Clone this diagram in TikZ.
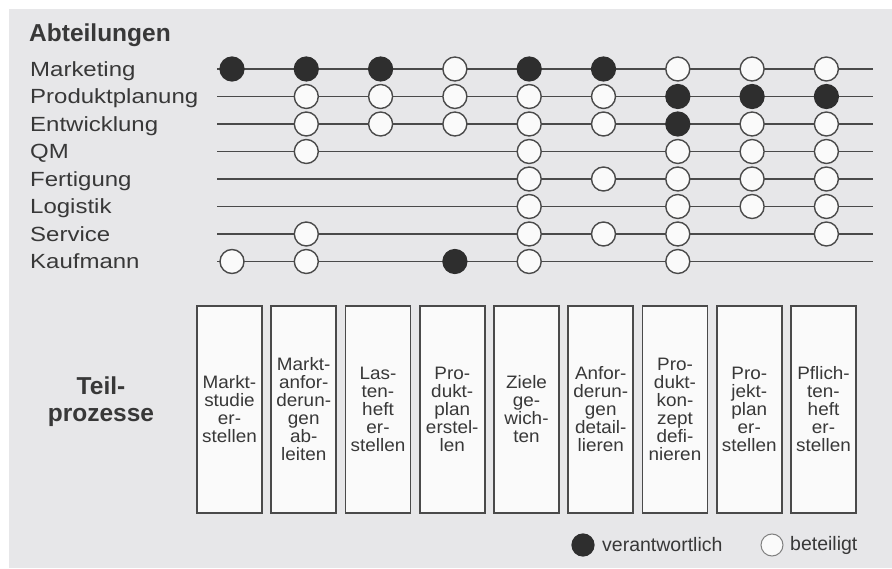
\documentclass[tikz,border=0pt]{standalone}
\usepackage{fontspec}
\setmainfont{Liberation Sans}
\newfontfamily\widesans{Liberation Sans}[FakeStretch=1.17]
\newfontfamily\boxsans{Liberation Sans}[FakeStretch=1.05]
\pgfdeclarelayer{background}
\pgfsetlayers{background,main}
\definecolor{paper}{HTML}{E7E7E9}
\definecolor{ink}{HTML}{383838}
\definecolor{wire}{HTML}{4A4A4A}
\definecolor{dot}{HTML}{2E2E2E}
\definecolor{boxfill}{HTML}{FAFAFA}
\begin{document}
\begin{tikzpicture}[x=1pt,y=-1pt,
  dept/.style={anchor=base west, inner sep=0pt, text=ink,
    font=\widesans\fontsize{20.5}{25}\selectfont},
  heading/.style={inner sep=0pt, text=ink,
    font=\fontsize{24.5}{27}\selectfont\bfseries},
  wireline/.style={draw=wire, line width=1.6pt},
  resp/.style={circle, fill=dot, draw=dot, line width=1.2pt,
    minimum size=24pt, inner sep=0pt},
  part/.style={circle, fill=boxfill, draw=wire, line width=1.4pt,
    minimum size=24pt, inner sep=0pt},
  stepbox/.style={draw=wire, fill=boxfill, line width=1.6pt,
    minimum width=65pt, minimum height=207pt, inner sep=0pt,
    align=center, text=ink, font=\boxsans\fontsize{18}{18}\selectfont},
  legendtext/.style={anchor=west, inner sep=0pt, text=ink,
    font=\fontsize{19.5}{22}\selectfont}]

% page and grey sheet
\useasboundingbox (0,0) rectangle (892,569);
\fill[white] (0,0) rectangle (892,569);
\fill[paper] (9,9) rectangle (892,568);

% headings
\node[heading, anchor=base west] (hdept) at (29,42) {Abteilungen};
\node[heading, align=center] (hproc) at (101,402) {Teil-\\prozesse};

% departments with their horizontal lines
\foreach \r/\name in {1/Marketing,2/Produktplanung,3/Entwicklung,4/QM,
                      5/Fertigung,6/Logistik,7/Service,8/Kaufmann}{
  \pgfmathsetmacro{\ry}{69+27.5*(\r-1)}
  \node[dept] (d\r) at (30,\ry+7.5) {\name};
  \coordinate (rw\r) at (217,\ry);
  \coordinate (re\r) at (873,\ry);
  \draw[wireline] (rw\r) -- (re\r);
}

% responsibility matrix: column / responsible rows / involved rows
\foreach \c/\blk/\wht in {1/{1}/{8},
                          2/{1}/{2,3,4,7,8},
                          3/{1}/{2,3},
                          4/{8}/{1,2,3},
                          5/{1}/{2,3,4,5,6,7,8},
                          6/{1}/{2,3,5,7},
                          7/{2,3}/{1,4,5,6,7,8},
                          8/{2}/{1,3,4,5,6},
                          9/{2}/{1,3,4,5,6,7}}{
  \pgfmathsetmacro{\cx}{232+74.3*(\c-1)}
  \foreach \r in \blk {
    \node[resp] (c\c-\r) at (\cx,{69+27.5*(\r-1)}) {};
  }
  \foreach \r in \wht {
    \node[part] (c\c-\r) at (\cx,{69+27.5*(\r-1)}) {};
  }
}

% sub-process boxes
\foreach \c/\txt in {1/{Markt-\\studie\\er-\\stellen},
                     2/{Markt-\\anfor-\\derun-\\gen\\ab-\\leiten},
                     3/{Las-\\ten-\\heft\\er-\\stellen},
                     4/{Pro-\\dukt-\\plan\\erstel-\\len},
                     5/{Ziele\\ge-\\wich-\\ten},
                     6/{Anfor-\\derun-\\gen\\detail-\\lieren},
                     7/{Pro-\\dukt-\\kon-\\zept\\defi-\\nieren},
                     8/{Pro-\\jekt-\\plan\\er-\\stellen},
                     9/{Pflich-\\ten-\\heft\\er-\\stellen}}{
  \node[stepbox] (b\c) at ({229.5+74.25*(\c-1)},409.5) {\txt};
}

% vertical connectors from the top row down to each box
\begin{pgfonlayer}{background}
  \foreach \c in {1,...,9}{
    \draw[wireline] (c\c-1.center) -- (c\c-1.center |- b\c.north);
  }
\end{pgfonlayer}

% legend
\node[resp, minimum size=22pt] (lr) at (583,545) {};
\node[legendtext] (lrt) at (602,545) {verantwortlich};
\node[part, minimum size=22pt, line width=1pt, draw=wire!70] (lp) at (772,545) {};
\node[legendtext] (lpt) at (790,545) {beteiligt};

\end{tikzpicture}
\end{document}
